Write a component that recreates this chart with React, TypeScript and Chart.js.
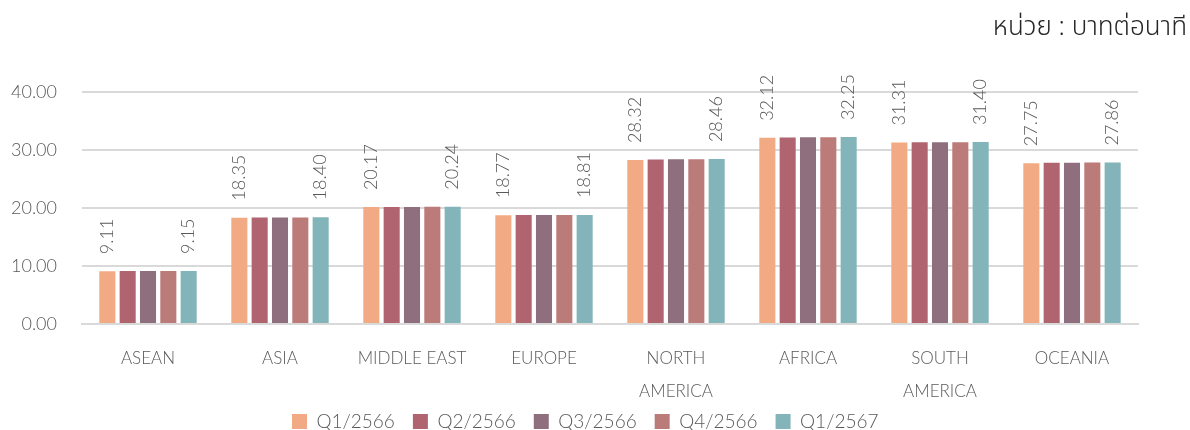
import React, { useEffect, useRef } from "react";
import { Chart, registerables } from "chart.js";

Chart.register(...registerables);

const categories: (string | string[])[] = [
  "ASEAN",
  "ASIA",
  "MIDDLE EAST",
  "EUROPE",
  ["NORTH", "AMERICA"],
  "AFRICA",
  ["SOUTH", "AMERICA"],
  "OCEANIA",
];

const seriesNames = ["Q1/2566", "Q2/2566", "Q3/2566", "Q4/2566", "Q1/2567"];

const q1_2566 = [9.11, 18.35, 20.17, 18.77, 28.32, 32.12, 31.31, 27.75];
const q2_2566 = [9.13, 18.37, 20.2, 18.79, 28.4, 32.2, 31.36, 27.82];
const q3_2566 = [9.13, 18.37, 20.21, 18.79, 28.42, 32.22, 31.37, 27.84];
const q4_2566 = [9.14, 18.39, 20.22, 18.8, 28.44, 32.23, 31.38, 27.85];
const q1_2567 = [9.15, 18.4, 20.24, 18.81, 28.46, 32.25, 31.4, 27.86];

const seriesColors = ["#F2AA84", "#B0646F", "#8F6F7E", "#BB7B79", "#82B4B9"];

const yTicks = [0, 10, 20, 30, 40];
const labelledSeries = [0, 4];

const titleText = "หน่วย : บาทต่อนาที";

const FONT = "Lato, 'Open Sans', 'Noto Sans', sans-serif";
const TITLE_FONT = "'Noto Sans Thai', 'Noto Sans Thai UI', Loma, Garuda, Lato, sans-serif";
const TEXT_GRAY = "#595959";

const valueLabels = {
  id: "valueLabels",
  afterDatasetsDraw(chart: any) {
    const ctx = chart.ctx;
    ctx.save();
    ctx.font = `300 18px ${FONT}`;
    ctx.fillStyle = TEXT_GRAY;
    ctx.textAlign = "left";
    ctx.textBaseline = "middle";
    labelledSeries.forEach((di) => {
      const meta = chart.getDatasetMeta(di);
      const data = chart.data.datasets[di].data as number[];
      meta.data.forEach((bar: any, i: number) => {
        ctx.save();
        ctx.translate(bar.x, bar.y - 17);
        ctx.rotate(-Math.PI / 2);
        ctx.fillText(data[i].toFixed(2), 0, 0);
        ctx.restore();
      });
    });
    ctx.restore();
  },
};

const LEGEND_BOX_H = 21;
const LEGEND_PAD = 18;
const LEGEND_TOP = 394;
const LEGEND_START_X = 292;

const legendPlacement = {
  id: "legendPlacement",
  beforeLayout(chart: any) {
    const lg = chart.legend;
    if (lg && !lg.__patched) {
      const orig = lg.fit.bind(lg);
      lg.fit = function () {
        orig();
        this.height = LEGEND_BOX_H;
        this.minSize = { width: this.width, height: LEGEND_BOX_H };
      };
      lg.__patched = true;
    }
  },
  afterLayout(chart: any) {
    const lg = chart.legend;
    if (!lg) return;
    lg.top = LEGEND_TOP;
    lg.bottom = LEGEND_TOP + 60;
    const lw = lg.lineWidths ? lg.lineWidths[0] : 0;
    const computed = (lg.left + LEGEND_PAD + lg.right - lw) / 2;
    const shift = LEGEND_START_X - computed;
    lg.left += shift;
    lg.right += shift;
  },
};

export default function App() {
  const ref = useRef<HTMLCanvasElement | null>(null);

  useEffect(() => {
    document.body.style.margin = "0";
    const allSeries = [q1_2566, q2_2566, q3_2566, q4_2566, q1_2567];
    const chart = new Chart(ref.current as HTMLCanvasElement, {
      type: "bar",
      data: {
        labels: categories,
        datasets: allSeries.map((d, i) => ({
          label: seriesNames[i],
          data: d,
          backgroundColor: seriesColors[i],
          borderWidth: 0,
          categoryPercentage: 0.77,
          barPercentage: 0.79,
        })),
      },
      options: {
        animation: false,
        responsive: false,
        layout: { padding: { left: 0, right: 3, top: 0, bottom: 0 } },
        plugins: {
          title: {
            display: true,
            text: titleText,
            align: "end",
            color: "#262626",
            font: { family: TITLE_FONT, size: 26, weight: "300" as any },
            padding: { top: 14, bottom: 47 },
          },
          legend: {
            position: "bottom",
            labels: {
              boxWidth: 15,
              boxHeight: 15,
              padding: LEGEND_PAD,
              color: TEXT_GRAY,
              font: { family: FONT, size: 19, weight: "300" as any },
            },
          },
          tooltip: { enabled: false },
        },
        scales: {
          x: {
            grid: { display: false, drawTicks: false },
            border: { display: true, color: "#d9d9d9", width: 2 },
            ticks: {
              color: TEXT_GRAY,
              padding: 18,
              maxRotation: 0,
              autoSkip: false,
              font: { family: FONT, size: 17, weight: "300" as any, lineHeight: 1.95 },
            },
            afterFit: (s: any) => {
              s.height = 85;
            },
          },
          y: {
            min: 0,
            max: 40,
            afterBuildTicks: (s: any) => {
              s.ticks = yTicks.map((v) => ({ value: v }));
            },
            grid: { color: "#d9d9d9", lineWidth: 2, drawTicks: false },
            border: { display: false },
            ticks: {
              color: TEXT_GRAY,
              padding: 25,
              font: { family: FONT, size: 18, weight: "300" as any },
              callback: (v: any) => Number(v).toFixed(2),
            },
            afterFit: (s: any) => {
              s.width = 82;
            },
          },
          yRight: {
            position: "right",
            min: 0,
            max: 40,
            grid: { display: false, drawTicks: false },
            border: { display: false },
            ticks: { display: false },
            afterFit: (s: any) => {
              s.width = 49;
            },
          },
        },
      },
      plugins: [valueLabels, legendPlacement],
    });
    return () => chart.destroy();
  }, []);

  return (
    <div style={{ position: "absolute", left: 0, top: 0, width: 1190, height: 430 }}>
      <canvas ref={ref} width={1190} height={430} style={{ width: 1190, height: 430 }} />
    </div>
  );
}
